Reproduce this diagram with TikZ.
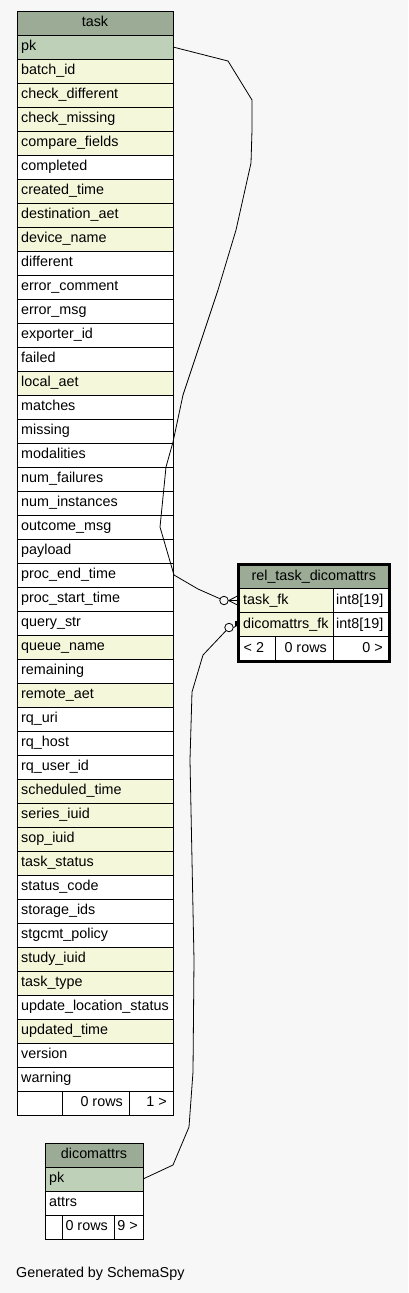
\documentclass[tikz,border=0pt]{standalone}
\usepackage{fontspec}
\setmainfont{Liberation Sans}
\definecolor{bgc}{HTML}{F7F7F7}
\definecolor{headc}{HTML}{9BAB96}
\definecolor{pkc}{HTML}{BED1B8}
\definecolor{idxc}{HTML}{F4F7DA}
\begin{document}
\begin{tikzpicture}[x=1bp,y=-1bp,
  every node/.style={font=\fontsize{14.4}{16}\selectfont},
  cellbox/.style={draw=black, line width=1bp, rectangle, inner sep=0, outer sep=0, anchor=north west, minimum height=24bp},
  txt/.style={inner sep=0, anchor=base west},
  rtxt/.style={inner sep=0, anchor=base east},
  ctxt/.style={inner sep=0, anchor=base},
  conn/.style={draw=black, line width=0.8bp},
  ring/.style={circle, draw=black, line width=0.8bp, fill=bgc, minimum size=8.5bp, inner sep=0}]
\fill[bgc] (0,0) rectangle (408,1293);
\useasboundingbox (0,0) rectangle (408,1293);
% ---------- task ----------
\node[cellbox, minimum width=156bp, fill=headc] (th) at (17,11) {};
\node[ctxt] (thl) at ([shift={(0,3.5)}]th.center) {task};
\foreach \lab/\col [count=\i from 0] in {pk/pkc, batch\_id/idxc, check\_different/idxc, check\_missing/idxc, compare\_fields/idxc, completed/white, created\_time/idxc, destination\_aet/idxc, device\_name/idxc, different/white, error\_comment/white, error\_msg/white, exporter\_id/white, failed/white, local\_aet/idxc, matches/white, missing/white, modalities/white, num\_failures/white, num\_instances/white, outcome\_msg/white, payload/white, proc\_end\_time/white, proc\_start\_time/white, query\_str/white, queue\_name/idxc, remaining/white, remote\_aet/idxc, rq\_uri/white, rq\_host/white, rq\_user\_id/white, scheduled\_time/idxc, series\_iuid/idxc, sop\_iuid/idxc, task\_status/idxc, status\_code/white, storage\_ids/white, stgcmt\_policy/white, study\_iuid/idxc, task\_type/idxc, update\_location\_status/white, updated\_time/idxc, version/white, warning/white} {
  \node[cellbox, minimum width=156bp, fill=\col] (t\i) at ({17},{35+24*\i}) {};
  \node[txt] (tl\i) at ([shift={(4,3.5)}]t\i.west) {\lab};
}
\node[cellbox, minimum width=45bp, fill=white] (tf1) at (17,1091) {};
\node[cellbox, minimum width=67bp, fill=white] (tf2) at (62,1091) {};
\node[cellbox, minimum width=44bp, fill=white] (tf3) at (129,1091) {};
\node[rtxt] (tf2l) at ([shift={(-6,3.5)}]tf2.east) {0 rows};
\node[rtxt] (tf3l) at ([shift={(-6,3.5)}]tf3.east) {1 >};
% ---------- rel_task_dicomattrs ----------
\node[cellbox, minimum width=150.5bp, fill=headc] (rh) at (238.5,564.5) {};
\node[ctxt] (rhl) at ([shift={(0,3.5)}]rh.center) {rel\_task\_dicomattrs};
\node[cellbox, minimum width=94.5bp, fill=idxc] (r1a) at (238.5,588.5) {};
\node[cellbox, minimum width=56bp, fill=white] (r1b) at (333,588.5) {};
\node[cellbox, minimum width=94.5bp, fill=idxc] (r2a) at (238.5,612.5) {};
\node[cellbox, minimum width=56bp, fill=white] (r2b) at (333,612.5) {};
\node[cellbox, minimum width=36.5bp, minimum height=25bp, fill=white] (rf1) at (238.5,636.5) {};
\node[cellbox, minimum width=58bp, minimum height=25bp, fill=white] (rf2) at (275,636.5) {};
\node[cellbox, minimum width=56bp, minimum height=25bp, fill=white] (rf3) at (333,636.5) {};
\draw[line width=3bp] (rh.north west) rectangle (rf3.south east);
\node[txt] (r1al) at ([shift={(4.5,3.5)}]r1a.west) {task\_fk};
\node[txt] (r1bl) at ([shift={(3,3.5)}]r1b.west) {int8[19]};
\node[txt] (r2al) at ([shift={(4.5,3.5)}]r2a.west) {dicomattrs\_fk};
\node[txt] (r2bl) at ([shift={(3,3.5)}]r2b.west) {int8[19]};
\node[txt] (rf1l) at ([shift={(5,3.5)}]rf1.west) {< 2};
\node[rtxt] (rf2l) at ([shift={(-6,3.5)}]rf2.east) {0 rows};
\node[rtxt] (rf3l) at ([shift={(-6,3.5)}]rf3.east) {0 >};
% ---------- dicomattrs ----------
\node[cellbox, minimum width=98bp, fill=headc] (dh) at (45,1143) {};
\node[ctxt] (dhl) at ([shift={(0,3.5)}]dh.center) {dicomattrs};
\node[cellbox, minimum width=98bp, fill=pkc] (d0) at (45,1167) {};
\node[txt] (d0l) at ([shift={(4,3.5)}]d0.west) {pk};
\node[cellbox, minimum width=98bp, fill=white] (d1) at (45,1191) {};
\node[txt] (d1l) at ([shift={(4,3.5)}]d1.west) {attrs};
\node[cellbox, minimum width=17bp, fill=white] (df1) at (45,1215) {};
\node[cellbox, minimum width=52bp, fill=white] (df2) at (62,1215) {};
\node[cellbox, minimum width=29bp, fill=white] (df3) at (114,1215) {};
\node[rtxt] (df2l) at ([shift={(-6,3.5)}]df2.east) {0 rows};
\node[rtxt] (df3l) at ([shift={(-5,3.5)}]df3.east) {9 >};
% ---------- connectors ----------
\node[ring] (o1) at (224,600.5) {};
\node[ring] (o2) at (229,627.5) {};
\draw[conn] (t0.east) -- (228,61) -- (252,100) -- (252,130) -- (251,163) -- (236,230) -- (218,290)
  -- (183,395) -- (173,442) -- (166,467) -- (160,527) -- (174,575) -- (198,589) -- (o1);
\draw[conn] (o1.east) -- ([yshift=-5]r1a.west);
\draw[conn] (o1.east) -- (r1a.west);
\draw[conn] (o1.east) -- ([yshift=5]r1a.west);
\draw[conn] (d0.east) -- (173,1165) -- (189,1127) -- (193,1072) -- (194,960) -- (190,760)
  -- (192,692) -- (203,655) -- (o2);
\draw[conn] (o2.east) -- (r2a.west);
\draw[line width=2bp] ([shift={(-3,-4)}]r2a.west) -- ([shift={(-3,1)}]r2a.west);
% ---------- footer ----------
\node[txt] (gen) at (16,1277) {Generated by SchemaSpy};
\end{tikzpicture}
\end{document}
